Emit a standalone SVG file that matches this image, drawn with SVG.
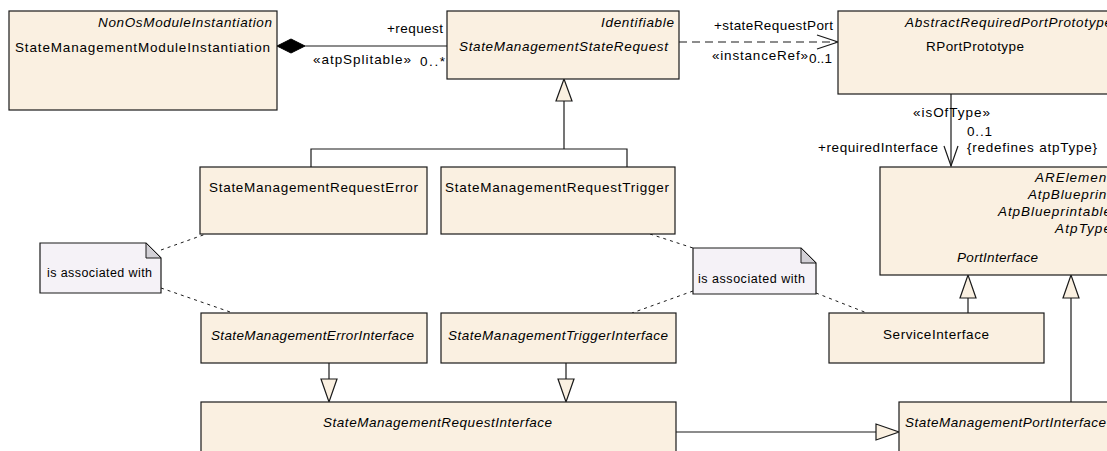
<svg xmlns="http://www.w3.org/2000/svg" width="1107" height="451" viewBox="0 0 1107 451">
<style>
.box{fill:#FAF0E1;stroke:#1a1a1a;stroke-width:1.2}
.note{fill:#F5F2F7;stroke:#1a1a1a;stroke-width:1.2}
.fold{fill:#D2D0D6;stroke:#1a1a1a;stroke-width:1}
.t{font-family:"Liberation Sans",Arial,sans-serif;font-size:13.5px;fill:#000}
.i{font-style:italic}
.n{font-family:"Liberation Sans",Arial,sans-serif;font-size:12.5px;fill:#000}
.c{stroke:#1a1a1a;stroke-width:1.2;fill:none}
.d{stroke:#1a1a1a;stroke-width:1.2;fill:none;stroke-dasharray:8,5}
.nd{stroke:#1a1a1a;stroke-width:1;fill:none;stroke-dasharray:3,4}
.tri{fill:#FAF0E1;stroke:#1a1a1a;stroke-width:1.2}
</style>
<rect width="1107" height="451" fill="#fff"/>

<g id="connectors">
  <!-- composition -->
  <line class="c" x1="305" y1="46" x2="447" y2="46"/>
  <polygon points="277,46 291,39 305,46 291,53" fill="#000" stroke="#000" stroke-width="1"/>
  <text class="t" x="387" y="33" textLength="56">+request</text>
  <text class="t" x="313" y="64" textLength="98">«atpSplitable»</text>
  <text class="t" x="420" y="66" textLength="25">0..*</text>
  <!-- instanceRef -->
  <line class="d" x1="679" y1="42" x2="837" y2="42"/>
  <polyline class="c" points="817,35 838,42 817,49"/>
  <text class="t" x="714" y="30" textLength="119">+stateRequestPort</text>
  <text class="t" x="712" y="60" textLength="96">«instanceRef»</text>
  <text class="t" x="809" y="63" textLength="23">0..1</text>
  <!-- isOfType -->
  <line class="c" x1="951" y1="94" x2="951" y2="166"/>
  <polyline class="c" points="944,146 951,166 958,146"/>
  <text class="t" x="913" y="117" textLength="77">«isOfType»</text>
  <text class="t" x="967" y="136" textLength="25">0..1</text>
  <text class="t" x="967" y="152" textLength="130">{redefines atpType}</text>
  <text class="t" x="818" y="152" textLength="120">+requiredInterface</text>
  <!-- generalization to StateManagementStateRequest -->
  <polyline class="c" points="311,167 311,149 627,149 627,167"/>
  <line class="c" x1="564" y1="149" x2="564" y2="101"/>
  <polygon class="tri" points="564,79 556,101 572,101"/>
  <!-- interfaces to request interface -->
  <line class="c" x1="329" y1="363" x2="329" y2="379"/>
  <polygon class="tri" points="321,379 337,379 329,402"/>
  <line class="c" x1="566" y1="363" x2="566" y2="379"/>
  <polygon class="tri" points="558,379 574,379 566,402"/>
  <!-- request interface to port interface -->
  <line class="c" x1="676" y1="432" x2="876" y2="432"/>
  <polygon class="tri" points="876,424 876,440 899,432"/>
  <!-- service interface to PortInterface -->
  <line class="c" x1="968" y1="313" x2="968" y2="298"/>
  <polygon class="tri" points="960,298 976,298 968,275"/>
  <!-- SM port interface to PortInterface -->
  <line class="c" x1="1071" y1="402" x2="1071" y2="298"/>
  <polygon class="tri" points="1063,298 1079,298 1071,275"/>
  <!-- note links -->
  <line class="nd" x1="161" y1="250" x2="206" y2="234"/>
  <line class="nd" x1="161" y1="288" x2="233" y2="313"/>
  <line class="nd" x1="650" y1="234" x2="693" y2="248"/>
  <line class="nd" x1="693" y1="291" x2="632" y2="313"/>
  <line class="nd" x1="816" y1="293" x2="867" y2="313"/>
</g>

<g id="StateManagementModuleInstantiation">
  <rect class="box" x="9" y="11" width="268" height="99"/>
  <text class="t i" x="98" y="27" textLength="174">NonOsModuleInstantiation</text>
  <text class="t" x="15" y="52" textLength="255">StateManagementModuleInstantiation</text>
</g>

<g id="StateManagementStateRequest">
  <rect class="box" x="447" y="11" width="232" height="68"/>
  <text class="t i" x="601" y="27" textLength="73">Identifiable</text>
  <text class="t i" x="459" y="51" textLength="209">StateManagementStateRequest</text>
</g>

<g id="RPortPrototype">
  <rect class="box" x="838" y="11" width="290" height="83"/>
  <text class="t i" x="905" y="27" textLength="207">AbstractRequiredPortPrototype</text>
  <text class="t" x="926" y="51" textLength="98">RPortPrototype</text>
</g>

<g id="PortInterface">
  <rect class="box" x="880" y="167" width="250" height="108"/>
  <text class="t i" x="1111" y="182" text-anchor="end" textLength="76">ARElement</text>
  <text class="t i" x="1111" y="199" text-anchor="end" textLength="83">AtpBlueprint</text>
  <text class="t i" x="1111" y="216" text-anchor="end" textLength="113">AtpBlueprintable</text>
  <text class="t i" x="1111" y="233" text-anchor="end" textLength="56">AtpType</text>
  <text class="t i" x="957" y="262" textLength="81">PortInterface</text>
</g>

<g id="StateManagementRequestError">
  <rect class="box" x="200" y="167" width="227" height="67"/>
  <text class="t" x="209" y="192" textLength="209">StateManagementRequestError</text>
</g>

<g id="StateManagementRequestTrigger">
  <rect class="box" x="441" y="167" width="234" height="67"/>
  <text class="t" x="445" y="192" textLength="224">StateManagementRequestTrigger</text>
</g>

<g id="note1">
  <polygon class="note" points="40,243 146,243 161,258 161,293 40,293"/>
  <polygon class="fold" points="146,243 161,258 146,258"/>
  <text class="n" x="47" y="277" textLength="105">is associated with</text>
</g>

<g id="note2">
  <polygon class="note" points="693,248 801,248 816,263 816,294 693,294"/>
  <polygon class="fold" points="801,248 816,263 801,263"/>
  <text class="n" x="698" y="283" textLength="107">is associated with</text>
</g>

<g id="StateManagementErrorInterface">
  <rect class="box" x="201" y="313" width="226" height="50"/>
  <text class="t i" x="211" y="340" textLength="203">StateManagementErrorInterface</text>
</g>

<g id="StateManagementTriggerInterface">
  <rect class="box" x="441" y="313" width="235" height="50"/>
  <text class="t i" x="448" y="340" textLength="220">StateManagementTriggerInterface</text>
</g>

<g id="ServiceInterface">
  <rect class="box" x="829" y="313" width="215" height="50"/>
  <text class="t" x="883" y="339" textLength="106">ServiceInterface</text>
</g>

<g id="StateManagementRequestInterface">
  <rect class="box" x="201" y="402" width="475" height="60"/>
  <text class="t i" x="323" y="427" textLength="229">StateManagementRequestInterface</text>
</g>

<g id="StateManagementPortInterface">
  <rect class="box" x="899" y="402" width="230" height="60"/>
  <text class="t i" x="905" y="427" textLength="201">StateManagementPortInterface</text>
</g>
</svg>
